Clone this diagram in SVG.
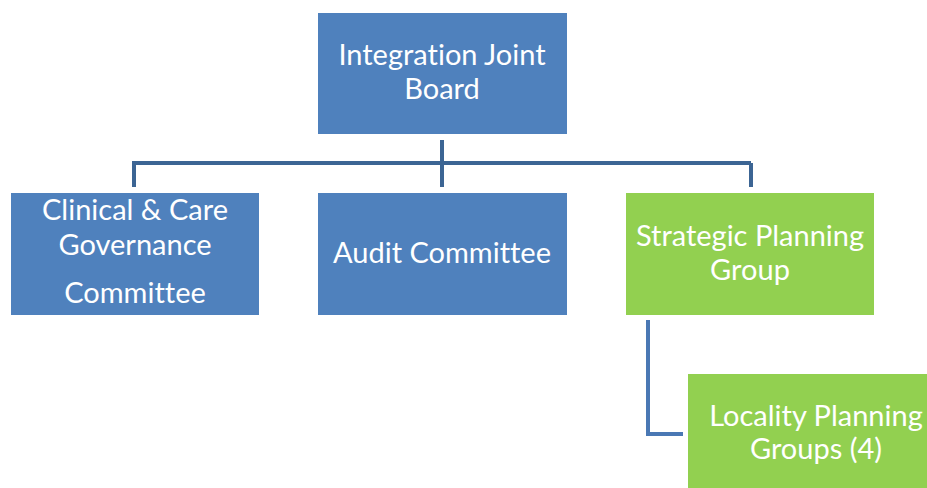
<svg xmlns="http://www.w3.org/2000/svg" width="927" height="488" viewBox="0 0 927 488">
<style>
.blue{fill:#4F81BD;}
.green{fill:#92D050;}
.t{font-family:Lato,"Open Sans","Liberation Sans",sans-serif;font-size:29px;fill:#FFFFFF;text-anchor:middle;font-variant-ligatures:none;font-feature-settings:"liga" 0,"dlig" 0;}
.c1{stroke:#3C6594;stroke-width:4;fill:none;}
.c2{stroke:#4A78B4;stroke-width:4;fill:none;}
</style>
<rect width="927" height="488" fill="#FFFFFF"/>
<g id="connectors">
<path class="c1" d="M442 140 V187 M132 163 H751 M134 163 V187 M751 163 V187"/>
<path class="c2" d="M648 320 V434 H683"/>
</g>
<g id="ijb">
<rect class="blue" x="318" y="13" width="249" height="121"/>
<text class="t" x="442" y="65">Integration Joint</text>
<text class="t" x="442" y="99">Board</text>
</g>
<g id="ccg">
<rect class="blue" x="11" y="193" width="248" height="122"/>
<text class="t" x="135" y="220">Clinical &amp; Care</text>
<text class="t" x="135" y="255">Governance</text>
<text class="t" x="135" y="303">Committee</text>
</g>
<g id="audit">
<rect class="blue" x="318" y="193" width="249" height="122"/>
<text class="t" x="442" y="263">Audit Committee</text>
</g>
<g id="spg">
<rect class="green" x="626" y="193" width="248" height="122"/>
<text class="t" x="750" y="246">Strategic Planning</text>
<text class="t" x="750" y="280">Group</text>
</g>
<g id="lpg">
<rect class="green" x="688" y="374" width="250" height="114"/>
<text class="t" x="816" y="426">Locality Planning</text>
<text class="t" x="816" y="459">Groups (4)</text>
</g>
</svg>
